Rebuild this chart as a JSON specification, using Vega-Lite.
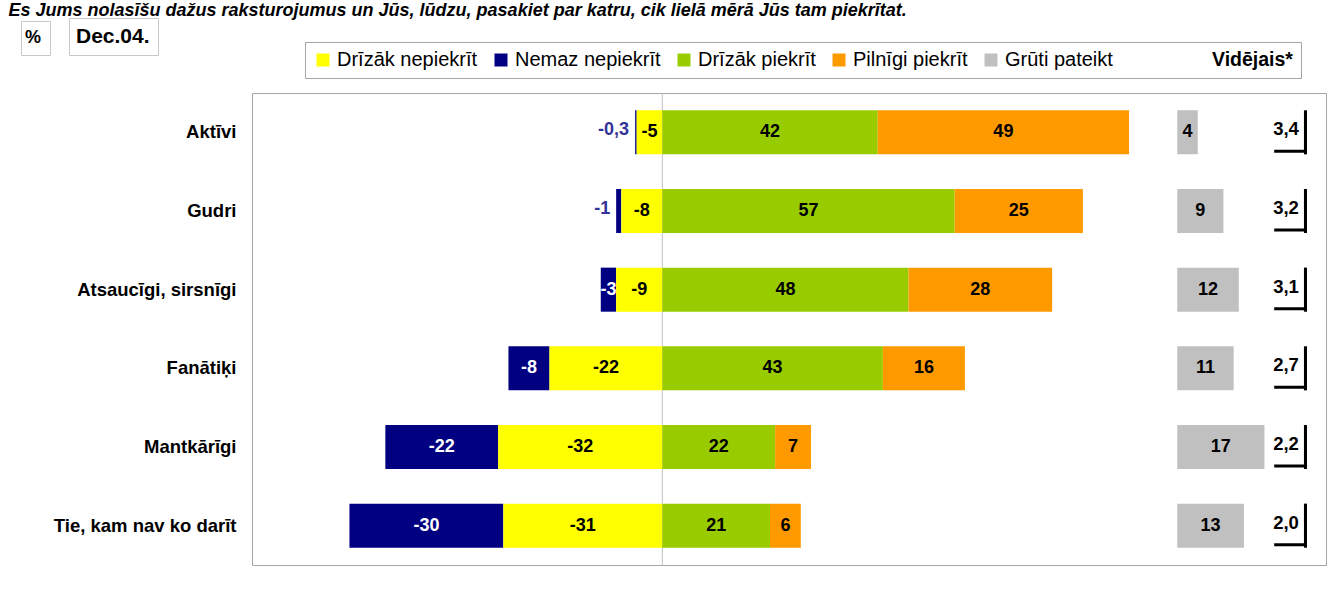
{
  "$schema": "https://vega.github.io/schema/vega-lite/v6.json",
  "autosize": "none",
  "width": 1074,
  "height": 472,
  "padding": {"left": 252, "top": 93, "right": 16, "bottom": 24},
  "config": {
    "font": "Liberation Sans",
    "view": {"stroke": "#a6a6a6", "strokeWidth": 1},
    "locale": {"number": {"decimal": ",", "thousands": " ", "grouping": [3], "currency": ["", ""], "minus": "-"}},
    "axisY": {
      "domain": false,
      "ticks": false,
      "labelFontSize": 18.5,
      "labelFontWeight": "bold",
      "labelColor": "black",
      "labelPadding": 16,
      "labelLimit": 400,
      "titleAngle": 0,
      "titleX": -244,
      "titleY": -78,
      "titleAlign": "left",
      "titleBaseline": "alphabetic",
      "titleFontSize": 18,
      "titleFontWeight": "bold",
      "titleFontStyle": "italic",
      "titleColor": "black",
      "titleLimit": 1300
    }
  },
  "datasets": {
    "bars": [
      {"item": "Aktīvi", "series": "Nemaz nepiekrīt", "value": -0.3},
      {"item": "Aktīvi", "series": "Drīzāk nepiekrīt", "value": -5},
      {"item": "Aktīvi", "series": "Drīzāk piekrīt", "value": 42},
      {"item": "Aktīvi", "series": "Pilnīgi piekrīt", "value": 49},
      {"item": "Aktīvi", "series": "Grūti pateikt", "value": 4},
      {"item": "Gudri", "series": "Nemaz nepiekrīt", "value": -1},
      {"item": "Gudri", "series": "Drīzāk nepiekrīt", "value": -8},
      {"item": "Gudri", "series": "Drīzāk piekrīt", "value": 57},
      {"item": "Gudri", "series": "Pilnīgi piekrīt", "value": 25},
      {"item": "Gudri", "series": "Grūti pateikt", "value": 9},
      {"item": "Atsaucīgi, sirsnīgi", "series": "Nemaz nepiekrīt", "value": -3},
      {"item": "Atsaucīgi, sirsnīgi", "series": "Drīzāk nepiekrīt", "value": -9},
      {"item": "Atsaucīgi, sirsnīgi", "series": "Drīzāk piekrīt", "value": 48},
      {"item": "Atsaucīgi, sirsnīgi", "series": "Pilnīgi piekrīt", "value": 28},
      {"item": "Atsaucīgi, sirsnīgi", "series": "Grūti pateikt", "value": 12},
      {"item": "Fanātiķi", "series": "Nemaz nepiekrīt", "value": -8},
      {"item": "Fanātiķi", "series": "Drīzāk nepiekrīt", "value": -22},
      {"item": "Fanātiķi", "series": "Drīzāk piekrīt", "value": 43},
      {"item": "Fanātiķi", "series": "Pilnīgi piekrīt", "value": 16},
      {"item": "Fanātiķi", "series": "Grūti pateikt", "value": 11},
      {"item": "Mantkārīgi", "series": "Nemaz nepiekrīt", "value": -22},
      {"item": "Mantkārīgi", "series": "Drīzāk nepiekrīt", "value": -32},
      {"item": "Mantkārīgi", "series": "Drīzāk piekrīt", "value": 22},
      {"item": "Mantkārīgi", "series": "Pilnīgi piekrīt", "value": 7},
      {"item": "Mantkārīgi", "series": "Grūti pateikt", "value": 17},
      {"item": "Tie, kam nav ko darīt", "series": "Nemaz nepiekrīt", "value": -30},
      {"item": "Tie, kam nav ko darīt", "series": "Drīzāk nepiekrīt", "value": -31},
      {"item": "Tie, kam nav ko darīt", "series": "Drīzāk piekrīt", "value": 21},
      {"item": "Tie, kam nav ko darīt", "series": "Pilnīgi piekrīt", "value": 6},
      {"item": "Tie, kam nav ko darīt", "series": "Grūti pateikt", "value": 13}
    ],
    "avg": [
      {"item": "Aktīvi", "avg": 3.4},
      {"item": "Gudri", "avg": 3.2},
      {"item": "Atsaucīgi, sirsnīgi", "avg": 3.1},
      {"item": "Fanātiķi", "avg": 2.7},
      {"item": "Mantkārīgi", "avg": 2.2},
      {"item": "Tie, kam nav ko darīt", "avg": 2.0}
    ]
  },
  "layer": [
    {
      "layer": [
        {
          "data": {"values": [{}]},
          "mark": {"type": "rule", "color": "#c0c0c0", "strokeWidth": 1},
          "encoding": {
            "x": {"datum": 0, "type": "quantitative", "scale": {"domain": [-80, 129.4], "zero": false, "nice": false}, "axis": null},
            "opacity": {
              "datum": "Dec.04.", "type": "nominal", "scale": {"range": [1, 1]},
              "legend": {"orient": "none", "legendX": -183, "legendY": -75, "title": null, "symbolType": "circle", "symbolSize": 0, "symbolOpacity": 0, "symbolStrokeWidth": 0, "labelOffset": -22, "labelFontSize": 21, "labelFontWeight": "bold", "labelColor": "black", "strokeColor": "#c8c8c8", "fillColor": "white", "padding": 8}
            },
            "strokeDash": {
              "datum": "%", "type": "nominal", "scale": {"range": [[1, 0]]},
              "legend": {"orient": "none", "legendX": -231, "legendY": -72, "title": null, "symbolType": "circle", "symbolSize": 0, "symbolOpacity": 0, "symbolStrokeWidth": 0, "labelOffset": -22, "labelFontSize": 18, "labelFontWeight": "bold", "labelColor": "black", "strokeColor": "#c8c8c8", "fillColor": "white", "padding": 8}
            }
          }
        },
        {
          "data": {"name": "bars"},
          "transform": [
            {"filter": "datum.series !== 'Grūti pateikt'"},
            {"stack": "value", "groupby": ["item"], "sort": [{"field": "series", "order": "ascending"}], "as": ["v0", "v1"]}
          ],
          "mark": {"type": "bar"},
          "encoding": {
            "x": {"field": "v0", "type": "quantitative", "scale": {"domain": [-80, 129.4], "zero": false, "nice": false}, "axis": null},
            "x2": {"field": "v1"},
            "y": {"field": "item", "type": "nominal", "sort": null, "title": "Es Jums nolasīšu dažus raksturojumus un Jūs, lūdzu, pasakiet par katru, cik lielā mērā Jūs tam piekrītat.", "scale": {"domain": ["Aktīvi", "Gudri", "Atsaucīgi, sirsnīgi", "Fanātiķi", "Mantkārīgi", "Tie, kam nav ko darīt"], "paddingInner": 0.44, "paddingOuter": 0.22}},
            "color": {
              "field": "series", "type": "nominal",
              "scale": {"domain": ["Drīzāk nepiekrīt", "Nemaz nepiekrīt", "Drīzāk piekrīt", "Pilnīgi piekrīt", "Grūti pateikt"], "range": ["#ffff00", "#000080", "#99cc00", "#ff9900", "#c0c0c0"]},
              "legend": {"orient": "none", "legendX": 53, "legendY": -51, "direction": "horizontal", "title": "Vidējais*", "titleOrient": "right", "titleFontSize": 19.5, "titleFontWeight": "bold", "titleColor": "black", "titlePadding": 99, "titleBaseline": "middle", "symbolType": "square", "symbolSize": 169, "symbolStrokeWidth": 0, "symbolOpacity": 1, "labelFontSize": 20, "labelColor": "black", "labelOffset": 4, "columnPadding": 13, "padding": 8, "strokeColor": "#a6a6a6", "fillColor": "white"}
            }
          }
        },
        {
          "data": {"name": "bars"},
          "transform": [
            {"filter": "datum.series !== 'Grūti pateikt'"},
            {"stack": "value", "groupby": ["item"], "sort": [{"field": "series", "order": "ascending"}], "as": ["v0", "v1"]},
            {"calculate": "(datum.v0 + datum.v1) / 2", "as": "mid"},
            {"filter": "!(datum.series === 'Nemaz nepiekrīt' && datum.value > -2)"}
          ],
          "mark": {"type": "text", "fontSize": 18, "fontWeight": "bold", "align": "center", "baseline": "middle"},
          "encoding": {
            "x": {"field": "mid", "type": "quantitative", "scale": {"domain": [-80, 129.4], "zero": false, "nice": false}, "axis": null},
            "y": {"field": "item", "type": "nominal", "sort": null, "title": "Es Jums nolasīšu dažus raksturojumus un Jūs, lūdzu, pasakiet par katru, cik lielā mērā Jūs tam piekrītat.", "scale": {"domain": ["Aktīvi", "Gudri", "Atsaucīgi, sirsnīgi", "Fanātiķi", "Mantkārīgi", "Tie, kam nav ko darīt"], "paddingInner": 0.44, "paddingOuter": 0.22}},
            "text": {"field": "value", "type": "quantitative", "format": "~g"},
            "color": {"condition": {"test": "datum.series === 'Nemaz nepiekrīt'", "value": "white"}, "value": "black"}
          }
        },
        {
          "data": {"name": "bars"},
          "transform": [
            {"filter": "datum.series !== 'Grūti pateikt'"},
            {"stack": "value", "groupby": ["item"], "sort": [{"field": "series", "order": "ascending"}], "as": ["v0", "v1"]},
            {"filter": "datum.series === 'Nemaz nepiekrīt' && datum.value > -2"}
          ],
          "mark": {"type": "text", "fontSize": 18, "fontWeight": "bold", "align": "right", "baseline": "middle", "dx": -6, "dy": -2, "color": "#333399"},
          "encoding": {
            "x": {"field": "v1", "type": "quantitative", "scale": {"domain": [-80, 129.4], "zero": false, "nice": false}, "axis": null},
            "y": {"field": "item", "type": "nominal", "sort": null, "title": "Es Jums nolasīšu dažus raksturojumus un Jūs, lūdzu, pasakiet par katru, cik lielā mērā Jūs tam piekrītat.", "scale": {"domain": ["Aktīvi", "Gudri", "Atsaucīgi, sirsnīgi", "Fanātiķi", "Mantkārīgi", "Tie, kam nav ko darīt"], "paddingInner": 0.44, "paddingOuter": 0.22}},
            "text": {"field": "value", "type": "quantitative", "format": "~g"}
          }
        },
        {
          "data": {"name": "avg"},
          "mark": {"type": "text", "fontSize": 18.5, "fontWeight": "bold", "align": "center", "baseline": "middle", "dy": -3, "color": "black"},
          "encoding": {
            "x": {"datum": 121.6, "type": "quantitative", "scale": {"domain": [-80, 129.4], "zero": false, "nice": false}, "axis": null},
            "y": {"field": "item", "type": "nominal", "sort": null, "title": "Es Jums nolasīšu dažus raksturojumus un Jūs, lūdzu, pasakiet par katru, cik lielā mērā Jūs tam piekrītat.", "scale": {"domain": ["Aktīvi", "Gudri", "Atsaucīgi, sirsnīgi", "Fanātiķi", "Mantkārīgi", "Tie, kam nav ko darīt"], "paddingInner": 0.44, "paddingOuter": 0.22}},
            "text": {"field": "avg", "type": "quantitative", "format": ".1f"}
          }
        },
        {
          "data": {"name": "avg"},
          "mark": {"type": "bar", "color": "black"},
          "encoding": {
            "x": {"datum": 125.1, "type": "quantitative", "scale": {"domain": [-80, 129.4], "zero": false, "nice": false}, "axis": null},
            "x2": {"datum": 125.7},
            "y": {"field": "item", "type": "nominal", "sort": null, "title": "Es Jums nolasīšu dažus raksturojumus un Jūs, lūdzu, pasakiet par katru, cik lielā mērā Jūs tam piekrītat.", "scale": {"domain": ["Aktīvi", "Gudri", "Atsaucīgi, sirsnīgi", "Fanātiķi", "Mantkārīgi", "Tie, kam nav ko darīt"], "paddingInner": 0.44, "paddingOuter": 0.22}}
          }
        },
        {
          "data": {"name": "avg"},
          "mark": {"type": "rule", "color": "black", "strokeWidth": 3, "yOffset": 19},
          "encoding": {
            "x": {"datum": 119.3, "type": "quantitative", "scale": {"domain": [-80, 129.4], "zero": false, "nice": false}, "axis": null},
            "x2": {"datum": 125.7},
            "y": {"field": "item", "type": "nominal", "sort": null, "title": "Es Jums nolasīšu dažus raksturojumus un Jūs, lūdzu, pasakiet par katru, cik lielā mērā Jūs tam piekrītat.", "scale": {"domain": ["Aktīvi", "Gudri", "Atsaucīgi, sirsnīgi", "Fanātiķi", "Mantkārīgi", "Tie, kam nav ko darīt"], "paddingInner": 0.44, "paddingOuter": 0.22}}
          }
        }
      ]
    },
    {
      "data": {"name": "bars"},
      "transform": [
        {"filter": "datum.series === 'Grūti pateikt'"},
        {"stack": "value", "groupby": ["item"], "as": ["v0", "v1"]},
        {"calculate": "(datum.v0 + datum.v1) / 2", "as": "mid"}
      ],
      "layer": [
        {
          "mark": {"type": "bar"},
          "encoding": {
            "x": {"field": "v0", "type": "quantitative", "scale": {"domain": [-180.4, 29], "zero": false, "nice": false}, "axis": null},
            "x2": {"field": "v1"},
            "y": {"field": "item", "type": "nominal", "sort": null, "title": "Es Jums nolasīšu dažus raksturojumus un Jūs, lūdzu, pasakiet par katru, cik lielā mērā Jūs tam piekrītat.", "scale": {"domain": ["Aktīvi", "Gudri", "Atsaucīgi, sirsnīgi", "Fanātiķi", "Mantkārīgi", "Tie, kam nav ko darīt"], "paddingInner": 0.44, "paddingOuter": 0.22}},
            "color": {
              "field": "series", "type": "nominal",
              "scale": {"domain": ["Drīzāk nepiekrīt", "Nemaz nepiekrīt", "Drīzāk piekrīt", "Pilnīgi piekrīt", "Grūti pateikt"], "range": ["#ffff00", "#000080", "#99cc00", "#ff9900", "#c0c0c0"]},
              "legend": {"orient": "none", "legendX": 53, "legendY": -51, "direction": "horizontal", "title": "Vidējais*", "titleOrient": "right", "titleFontSize": 19.5, "titleFontWeight": "bold", "titleColor": "black", "titlePadding": 99, "titleBaseline": "middle", "symbolType": "square", "symbolSize": 169, "symbolStrokeWidth": 0, "symbolOpacity": 1, "labelFontSize": 20, "labelColor": "black", "labelOffset": 4, "columnPadding": 13, "padding": 8, "strokeColor": "#a6a6a6", "fillColor": "white"}
            }
          }
        },
        {
          "mark": {"type": "text", "fontSize": 18, "fontWeight": "bold", "align": "center", "baseline": "middle", "color": "black"},
          "encoding": {
            "x": {"field": "mid", "type": "quantitative", "scale": {"domain": [-180.4, 29], "zero": false, "nice": false}, "axis": null},
            "y": {"field": "item", "type": "nominal", "sort": null, "title": "Es Jums nolasīšu dažus raksturojumus un Jūs, lūdzu, pasakiet par katru, cik lielā mērā Jūs tam piekrītat.", "scale": {"domain": ["Aktīvi", "Gudri", "Atsaucīgi, sirsnīgi", "Fanātiķi", "Mantkārīgi", "Tie, kam nav ko darīt"], "paddingInner": 0.44, "paddingOuter": 0.22}},
            "text": {"field": "value", "type": "quantitative", "format": "~g"}
          }
        }
      ]
    }
  ],
  "resolve": {"scale": {"x": "independent"}}
}
